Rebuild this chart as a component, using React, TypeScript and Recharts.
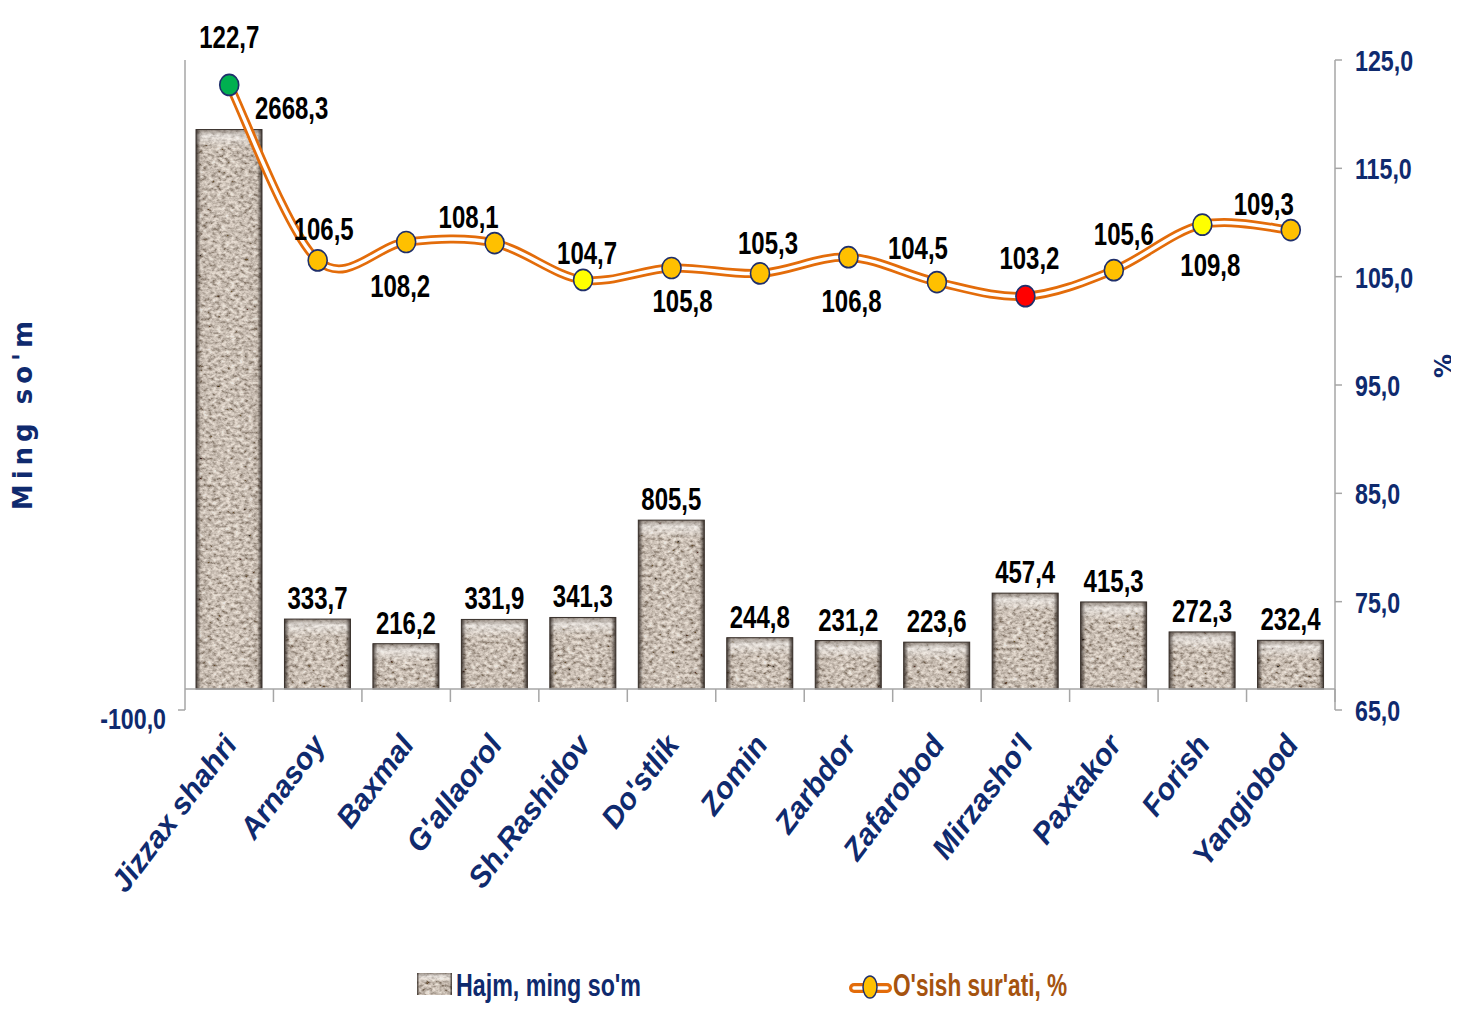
import React from 'react';
import { ComposedChart, Bar, Line, XAxis, YAxis, ReferenceLine, LabelList } from 'recharts';

// ---------- data ----------
const categories = [
  'Jizzax shahri', 'Arnasoy', 'Baxmal', "G'allaorol", 'Sh.Rashidov', "Do'stlik", 'Zomin',
  'Zarbdor', 'Zafarobod', "Mirzasho'l", 'Paxtakor', 'Forish', 'Yangiobod',
];
const volumeValues = [2668.3, 333.7, 216.2, 331.9, 341.3, 805.5, 244.8, 231.2, 223.6, 457.4, 415.3, 272.3, 232.4];
const growthValues = [122.7, 106.5, 108.2, 108.1, 104.7, 105.8, 105.3, 106.8, 104.5, 103.2, 105.6, 109.8, 109.3];
const leftTicks = [-100];
const rightTicks = [65, 75, 85, 95, 105, 115, 125];
const seriesNames = ["Hajm, ming so'm", "O'sish sur'ati, %"];
const leftAxisTitle = "Ming so'm";
const rightAxisTitle = '%';

// ---------- styling (kept apart from data) ----------
const dotFills = ['#00B050', '#FFC000', '#FFC000', '#FFC000', '#FFFF00', '#FFC000', '#FFC000', '#FFC000', '#FFC000', '#FF0000', '#FFC000', '#FFFF00', '#FFC000'];
// label centre shift relative to the marker [dx, dy]
const growthLabelShift: [number, number][] = [
  [0, -49], [6, -32], [-6, 43], [-26, -27], [4, -28], [11, 32], [8, -31],
  [3, 43], [-19, -35], [4, -39], [10, -37], [8, 39], [-27, -27],
];

const NAVY = '#0F2A6E';
const BROWN = '#A5530F';
const REGULAR = "'Liberation Sans', Arial, sans-serif";
const HEAVY = "'DejaVu Sans', Verdana, sans-serif";

const data = categories.map((name, i) => ({ name, volume: volumeValues[i], growth: growthValues[i] }));

const fmt = (v: number) => v.toFixed(1).replace('.', ',');

// condensed bold text (horizontal squeeze imitates Arial Narrow)
const NText = (p: { x: number; y: number; anchor?: string; size?: number; sx?: number; fill?: string; children: any }) => (
  <text
    transform={`translate(${p.x},${p.y}) scale(${p.sx ?? 0.75},1)`}
    x={0}
    y={0}
    textAnchor={(p.anchor ?? 'middle') as any}
    fontFamily={REGULAR}
    fontWeight="bold"
    fontSize={p.size ?? 32}
    fill={p.fill ?? '#000'}
  >
    {p.children}
  </text>
);

// Excel-like smoothed curve (Catmull-Rom converted to Bezier)
const excelSmooth: any = (context: any) => {
  let pts: [number, number][] = [];
  return {
    areaStart() {},
    areaEnd() {},
    lineStart() { pts = []; },
    point(x: number, y: number) { pts.push([+x, +y]); },
    lineEnd() {
      const n = pts.length;
      if (!n) return;
      context.moveTo(pts[0][0], pts[0][1]);
      const t = 1 / 6;
      for (let i = 0; i < n - 1; i++) {
        const p0 = pts[i - 1] || pts[i];
        const p1 = pts[i];
        const p2 = pts[i + 1];
        const p3 = pts[i + 2] || p2;
        context.bezierCurveTo(
          p1[0] + (p2[0] - p0[0]) * t, p1[1] + (p2[1] - p0[1]) * t,
          p2[0] - (p3[0] - p1[0]) * t, p2[1] - (p3[1] - p1[1]) * t,
          p2[0], p2[1],
        );
      }
    },
  };
};

const TextureLayers = ({ x, y, width, height, topH }: { x: number; y: number; width: number; height: number; topH: number }) => (
  <g>
    <rect x={x} y={y} width={width} height={height} fill="url(#barBase)" />
    <rect x={x} y={y} width={width} height={height} fill="#9a8f88" filter="url(#granite)" opacity={0.7} />
    <rect x={x} y={y} width={width} height={topH} fill="url(#barTop)" />
    <rect x={x} y={y} width={width} height={height} fill="url(#barEdge)" />
  </g>
);

const TexturedBar = (props: any) => {
  const { x, y, width, height } = props;
  if (!height || height <= 0) return null;
  return (
    <g>
      <TextureLayers x={x} y={y} width={width} height={height} topH={Math.min(18, height / 2)} />
      <rect x={x} y={y} width={width} height={height} fill="none" stroke="#3b332e" strokeWidth={1} />
    </g>
  );
};

const renderDot = (props: any) => {
  const { cx, cy, index } = props;
  if (cx == null || cy == null) return <g key={`d${index}`} />;
  return (
    <ellipse key={`d${index}`} cx={cx} cy={cy} rx={9.5} ry={10.5} fill={dotFills[index]} stroke="#1F2F6B" strokeWidth={1.6} />
  );
};

const GrowthLabel = (props: any) => {
  const { x, y, value, index } = props;
  const [dx, dy] = growthLabelShift[index] || [0, -30];
  return <NText x={x + dx} y={y + dy + 12}>{fmt(value)}</NText>;
};

const VolumeLabel = (props: any) => {
  const { x, y, width, value, index } = props;
  if (index === 0) {
    return <NText x={x + width - 7} y={y - 11} anchor="start">{fmt(value)}</NText>;
  }
  return <NText x={x + width / 2} y={y - 10}>{fmt(value)}</NText>;
};

const CategoryTick = (props: any) => {
  const { x, y, payload, index } = props;
  const half = payload && payload.offset ? payload.offset : 44.2;
  const ax = x + 9;
  const ay = y + 35;
  const zeroY = y - 21;
  return (
    <g>
      {index === 0 ? null : <line x1={x - half} x2={x - half} y1={zeroY} y2={zeroY + 13} stroke="#A6A6A6" strokeWidth={1.5} />}
      {index === categories.length - 1 ? <line x1={x + half} x2={x + half} y1={zeroY} y2={zeroY + 13} stroke="#A6A6A6" strokeWidth={1.5} /> : null}
      <text x={ax} y={ay} transform={`rotate(-53, ${ax}, ${ay})`} textAnchor="end" fontFamily={REGULAR} fontStyle="italic" fontWeight="bold" fontSize={30} fill={NAVY}>
        {payload.value}
      </text>
    </g>
  );
};

const LeftTick = (props: any) => {
  const { x, y, payload } = props;
  return <NText x={x} y={y + 19} anchor="end" size={29} sx={0.8} fill={NAVY}>{fmt(payload.value)}</NText>;
};

const RightTick = (props: any) => {
  const { x, y, payload } = props;
  return <NText x={x} y={y + 11} anchor="start" size={29} sx={0.8} fill={NAVY}>{fmt(payload.value)}</NText>;
};

const LeftTitle = (props: any) => {
  const vb = props.viewBox || { y: 52, height: 650 };
  const cx = 24;
  const cy = vb.y + vb.height / 2 + 28;
  return (
    <text x={cx} y={cy} transform={`rotate(-90, ${cx}, ${cy})`} textAnchor="middle" fontFamily={HEAVY} fontWeight="bold" fontSize={26} letterSpacing={5} fill={NAVY}>
      {leftAxisTitle}
    </text>
  );
};

const RightTitle = (props: any) => {
  const vb = props.viewBox || { x: 1327, width: 124, y: 52, height: 650 };
  const cx = vb.x + vb.width - 7;
  const cy = vb.y + vb.height / 2 - 19;
  return (
    <text x={cx} y={cy} transform={`rotate(-90, ${cx}, ${cy})`} textAnchor="middle" fontFamily={HEAVY} fontWeight="bold" fontSize={24} fill={NAVY}>
      {rightAxisTitle}
    </text>
  );
};

// legend drawn inside the chart surface
const ChartLegend = () => (
  <g className="chart-legend">
    <TextureLayers x={409} y={965} width={35} height={22} topH={9} />
    <NText x={448} y={988} anchor="start" size={31} sx={0.75} fill={NAVY}>{seriesNames[0]}</NText>
    <line x1={846} x2={879} y1={980} y2={980} stroke="#E36C0A" strokeWidth={10} strokeLinecap="round" />
    <line x1={846} x2={879} y1={980} y2={980} stroke="#fff" strokeWidth={3.5} strokeLinecap="round" />
    <ellipse cx={862} cy={979} rx={7} ry={11} fill="#FFC000" stroke="#1F2F6B" strokeWidth={1.5} />
    <NText x={885} y={988} anchor="start" size={31} sx={0.73} fill={BROWN}>{seriesNames[1]}</NText>
  </g>
);

export default function App() {
  return (
    <ComposedChart
      width={1451}
      height={1002}
      data={data}
      margin={{ top: 52, right: 0, bottom: 0, left: 0 }}
    >
      <defs>
        <linearGradient id="barBase" x1="0" y1="0" x2="1" y2="0">
          <stop offset="0%" stopColor="#64574e" />
          <stop offset="10%" stopColor="#a3968c" />
          <stop offset="50%" stopColor="#b6aaa0" />
          <stop offset="90%" stopColor="#a3968c" />
          <stop offset="100%" stopColor="#64574e" />
        </linearGradient>
        <linearGradient id="barEdge" x1="0" y1="0" x2="1" y2="0">
          <stop offset="0%" stopColor="#2b231e" stopOpacity={0.8} />
          <stop offset="7%" stopColor="#2b231e" stopOpacity={0} />
          <stop offset="93%" stopColor="#2b231e" stopOpacity={0} />
          <stop offset="100%" stopColor="#2b231e" stopOpacity={0.85} />
        </linearGradient>
        <linearGradient id="barTop" x1="0" y1="0" x2="0" y2="1">
          <stop offset="0%" stopColor="#5a5049" stopOpacity={0.5} />
          <stop offset="35%" stopColor="#ffffff" stopOpacity={0.5} />
          <stop offset="100%" stopColor="#ffffff" stopOpacity={0} />
        </linearGradient>
        <filter id="granite" x="0" y="0" width="1" height="1" filterUnits="objectBoundingBox">
          <feTurbulence type="fractalNoise" baseFrequency="0.22 0.3" numOctaves={3} seed={7} result="noise" />
          <feColorMatrix in="noise" type="matrix" values="1.7 0 0 0 -0.2  1.62 0 0 0 -0.23  1.52 0 0 0 -0.25  0 0 0 0 1" result="gray" />
          <feComposite in="gray" in2="SourceGraphic" operator="in" />
        </filter>
      </defs>
      <XAxis
        dataKey="name"
        interval={0}
        height={300}
        tickSize={0}
        tickMargin={0}
        axisLine={false}
        tickLine={false}
        tick={<CategoryTick />}
      />
      <YAxis
        yAxisId="left"
        width={177}
        domain={[-100, 3000]}
        ticks={leftTicks}
        tickSize={7}
        tickMargin={12}
        axisLine={{ stroke: '#A6A6A6', strokeWidth: 1.5 }}
        tickLine={{ stroke: '#A6A6A6', strokeWidth: 1.5 }}
        tick={<LeftTick />}
        label={<LeftTitle />}
      />
      <YAxis
        yAxisId="right"
        orientation="right"
        width={124}
        domain={[65, 125]}
        ticks={rightTicks}
        tickSize={7}
        tickMargin={13}
        axisLine={{ stroke: '#A6A6A6', strokeWidth: 1.5 }}
        tickLine={{ stroke: '#A6A6A6', strokeWidth: 1.5 }}
        tick={<RightTick />}
        label={<RightTitle />}
      />
      <ReferenceLine yAxisId="left" y={0} stroke="#A6A6A6" strokeWidth={1.5} />
      <Bar yAxisId="left" dataKey="volume" name={seriesNames[0]} barSize={66} shape={<TexturedBar />} isAnimationActive={false}>
        <LabelList dataKey="volume" content={<VolumeLabel />} />
      </Bar>
      <Line yAxisId="right" dataKey="growth" type={excelSmooth} stroke="#E36C0A" strokeWidth={9} dot={false} activeDot={false} isAnimationActive={false} legendType="none" />
      <Line yAxisId="right" dataKey="growth" name={seriesNames[1]} type={excelSmooth} stroke="#ffffff" strokeWidth={3.5} dot={renderDot} activeDot={false} isAnimationActive={false}>
        <LabelList dataKey="growth" content={<GrowthLabel />} />
      </Line>
      <ChartLegend />
    </ComposedChart>
  );
}
